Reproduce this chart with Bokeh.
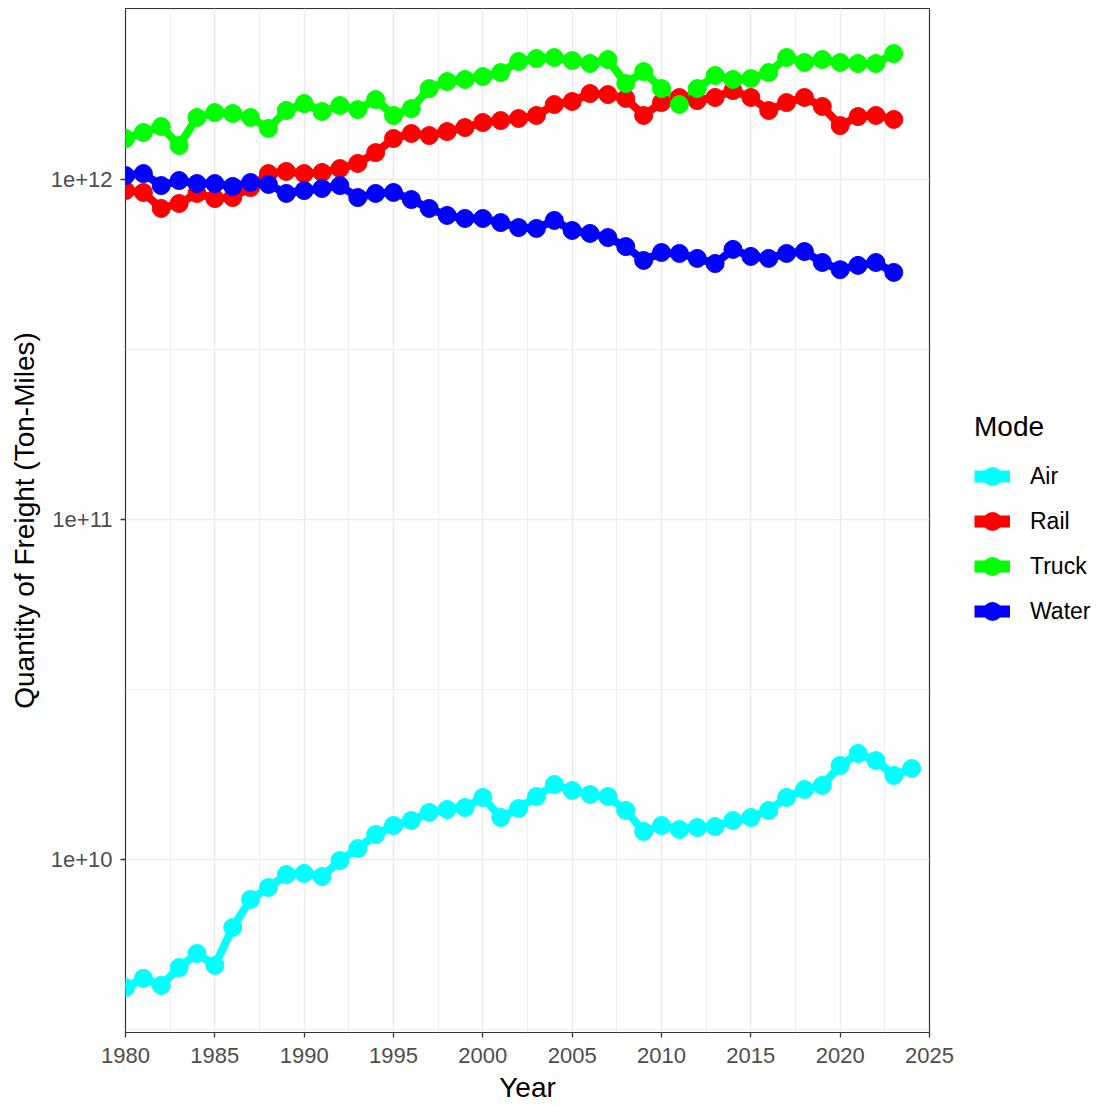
from bokeh.plotting import figure
from bokeh.models import (Range1d, FixedTicker, CustomJSTickFormatter, Legend,
                          LegendItem, ColumnDataSource)
from bokeh.embed import file_html
from bokeh.resources import INLINE

# Freight ton-miles by mode, 1980 onwards
years = list(range(1980, 2024))
years_air = list(range(1980, 2025))

air = [4.20e9, 4.47e9, 4.26e9, 4.81e9, 5.29e9, 4.88e9, 6.31e9, 7.63e9, 8.27e9, 9.03e9,
       9.10e9, 8.91e9, 9.93e9, 1.077e10, 1.184e10, 1.259e10, 1.302e10, 1.375e10, 1.403e10, 1.422e10,
       1.522e10, 1.329e10, 1.413e10, 1.532e10, 1.662e10, 1.596e10, 1.553e10, 1.532e10, 1.394e10, 1.209e10,
       1.259e10, 1.225e10, 1.242e10, 1.250e10, 1.302e10, 1.329e10, 1.394e10, 1.522e10, 1.606e10, 1.651e10,
       1.890e10, 2.050e10, 1.955e10, 1.767e10, 1.852e10]

rail = [9.28e11, 9.16e11, 8.22e11, 8.50e11, 9.10e11, 8.79e11, 8.85e11, 9.47e11, 1.041e12, 1.056e12,
        1.041e12, 1.049e12, 1.077e12, 1.115e12, 1.200e12, 1.320e12, 1.366e12, 1.347e12, 1.384e12, 1.422e12,
        1.471e12, 1.491e12, 1.512e12, 1.543e12, 1.662e12, 1.696e12, 1.790e12, 1.778e12, 1.731e12, 1.543e12,
        1.684e12, 1.743e12, 1.707e12, 1.743e12, 1.827e12, 1.743e12, 1.596e12, 1.684e12, 1.743e12, 1.640e12,
        1.441e12, 1.532e12, 1.543e12, 1.502e12]

truck = [1.320e12, 1.375e12, 1.432e12, 1.259e12, 1.522e12, 1.574e12, 1.564e12, 1.522e12, 1.413e12, 1.596e12,
         1.673e12, 1.585e12, 1.651e12, 1.606e12, 1.719e12, 1.543e12, 1.617e12, 1.852e12, 1.942e12, 1.969e12,
         2.009e12, 2.064e12, 2.224e12, 2.269e12, 2.285e12, 2.239e12, 2.194e12, 2.254e12, 1.916e12, 2.078e12,
         1.852e12, 1.662e12, 1.852e12, 2.023e12, 1.969e12, 1.982e12, 2.064e12, 2.285e12, 2.209e12, 2.254e12,
         2.209e12, 2.194e12, 2.194e12, 2.347e12]

water = [1.027e12, 1.041e12, 9.60e11, 9.93e11, 9.73e11, 9.73e11, 9.54e11, 9.80e11, 9.67e11, 9.10e11,
         9.28e11, 9.41e11, 9.60e11, 8.85e11, 9.10e11, 9.16e11, 8.73e11, 8.22e11, 7.84e11, 7.68e11,
         7.68e11, 7.47e11, 7.22e11, 7.18e11, 7.58e11, 7.08e11, 6.94e11, 6.75e11, 6.35e11, 5.78e11,
         6.10e11, 6.06e11, 5.86e11, 5.66e11, 6.23e11, 5.94e11, 5.86e11, 6.06e11, 6.14e11, 5.70e11,
         5.43e11, 5.59e11, 5.70e11, 5.33e11]

modes = ["Air", "Rail", "Truck", "Water"]
colors = ["#00FFFF", "#FF0000", "#00FF00", "#0000FF"]
series = [(years_air, air), (years, rail), (years, truck), (years, water)]

x_ticks = [1980, 1985, 1990, 1995, 2000, 2005, 2010, 2015, 2020, 2025]
x_minor = [1982.5, 1987.5, 1992.5, 1997.5, 2002.5, 2007.5, 2012.5, 2017.5, 2022.5]
y_ticks = [1e10, 1e11, 1e12]
y_minor = [10 ** 9.5, 10 ** 10.5, 10 ** 11.5, 10 ** 12.5]

FONT = "Liberation Sans"

p = figure(frame_width=804, frame_height=1024, y_axis_type="log",
           x_range=Range1d(1980, 2025), y_range=Range1d(10 ** 9.491, 10 ** 12.503),
           output_backend="svg", toolbar_location=None,
           min_border_left=125, min_border_top=8, min_border_bottom=74, min_border_right=0)
p.background_fill_color = "white"
p.border_fill_color = "white"
p.outline_line_color = "#333333"
p.outline_line_width = 1.2

p.xaxis.ticker = FixedTicker(ticks=x_ticks, minor_ticks=x_minor)
p.yaxis.ticker = FixedTicker(ticks=y_ticks, minor_ticks=y_minor)
p.yaxis.formatter = CustomJSTickFormatter(code="return '1e+' + Math.round(Math.log10(tick));")

for ax in (p.xaxis, p.yaxis):
    ax.axis_line_color = None
    ax.major_tick_line_color = "#333333"
    ax.major_tick_line_width = 1.3
    ax.major_tick_in = 0
    ax.major_tick_out = 5
    ax.minor_tick_line_color = None
    ax.major_label_text_font = FONT
    ax.major_label_text_font_size = "22px"
    ax.major_label_text_color = "#4d4d4d"
    ax.axis_label_text_font = FONT
    ax.axis_label_text_font_size = "28px"
    ax.axis_label_text_font_style = "normal"
    ax.axis_label_text_color = "black"

p.xaxis.axis_label = "Year"
p.yaxis.axis_label = "Quantity of Freight (Ton-Miles)"
p.xaxis.major_label_standoff = 10
p.yaxis.major_label_standoff = 8
p.xaxis.axis_label_standoff = 6
p.yaxis.axis_label_standoff = 8

for g in (p.xgrid, p.ygrid):
    g.grid_line_color = "#ebebeb"
    g.grid_line_width = 1.5
    g.minor_grid_line_color = "#ebebeb"
    g.minor_grid_line_width = 0.8

# lines first, then points, so every series' points sit above all lines
sources = []
for (xs, ys), c in zip(series, colors):
    src = ColumnDataSource(dict(x=xs, y=ys))
    sources.append(src)
    p.line("x", "y", source=src, line_color=c, line_width=8)

for src, c in zip(sources, colors):
    p.scatter("x", "y", source=src, size=18, fill_color=c, line_color=c)

# legend keys: a thick bar with a dot on it (key renderers sit outside the visible range)
items = []
for c, name in zip(colors, modes):
    key_src = ColumnDataSource(dict(x=[1900], y=[1.0]))
    kl = p.line("x", "y", source=key_src, line_color=c, line_width=12)
    ks = p.scatter("x", "y", source=key_src, fill_color=c, line_color=c, line_width=4.5)
    items.append(LegendItem(label=name, renderers=[kl, ks]))

legend = Legend(items=items, title="Mode", location="center_left")
legend.title_text_font = FONT
legend.title_text_font_size = "28px"
legend.title_text_font_style = "normal"
legend.title_text_color = "black"
legend.title_standoff = 15
legend.label_text_font = FONT
legend.label_text_font_size = "23px"
legend.label_text_color = "black"
legend.glyph_width = 36
legend.glyph_height = 36
legend.label_height = 20
legend.label_standoff = 20
legend.spacing = 9
legend.padding = 0
legend.margin = 45
legend.border_line_color = None
legend.background_fill_alpha = 0
p.add_layout(legend, "right")

open("out.html", "w").write(file_html(p, INLINE))
